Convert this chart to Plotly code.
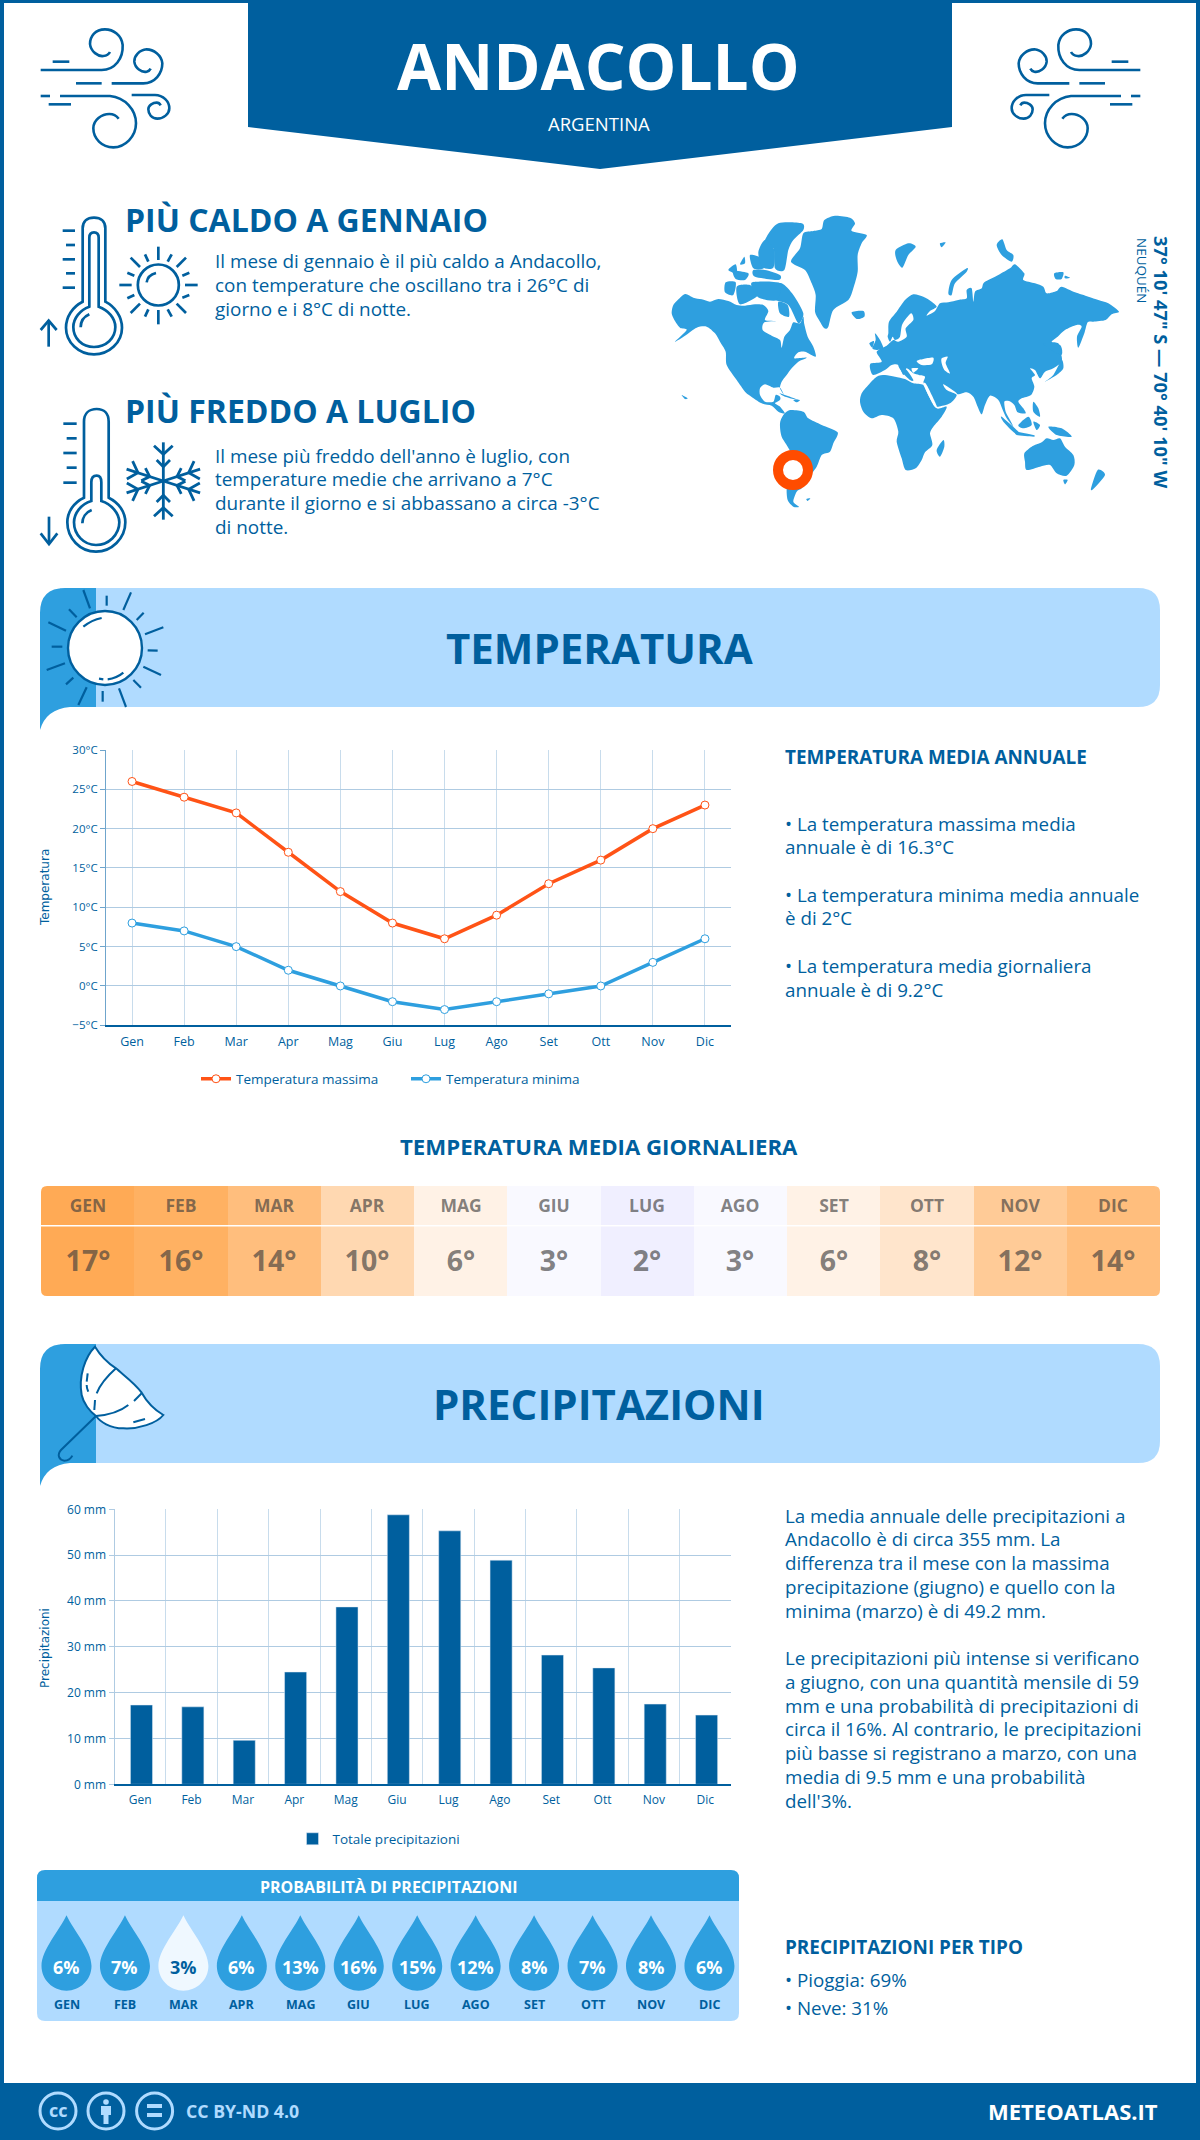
import math
import re
import plotly.graph_objects as go

months = ["Gen", "Feb", "Mar", "Apr", "Mag", "Giu", "Lug", "Ago", "Set", "Ott", "Nov", "Dic"]
months_upper = ["GEN", "FEB", "MAR", "APR", "MAG", "GIU", "LUG", "AGO", "SET", "OTT", "NOV", "DIC"]
temp_max = [26, 24, 22, 17, 12, 8, 6, 9, 13, 16, 20, 23]
temp_min = [8, 7, 5, 2, 0, -2, -3, -2, -1, 0, 3, 6]
temp_avg = [17, 16, 14, 10, 6, 3, 2, 3, 6, 8, 12, 14]
precip_mm = [17.3, 16.9, 9.6, 24.5, 38.7, 58.8, 55.3, 48.9, 28.2, 25.4, 17.5, 15.1]
precip_prob = [6, 7, 3, 6, 13, 16, 15, 12, 8, 7, 8, 6]

BLUE = "#005F9E"
MID = "#2E9FDF"
LIGHT = "#B0DBFF"
FONT = "Open Sans"

shapes = []
notes = []


def tf(path, ox=0, oy=0, s=1.0, mirror=None):
    # zoomed-crop coordinates -> page pixels
    nums = iter(range(10**6))

    def sub(m):
        v = float(m.group())
        if next(nums) % 2 == 0:
            x = ox + v * s
            return f"{(mirror - x) if mirror else x:.2f}"
        return f"{oy + v * s:.2f}"
    return re.sub(r"-?\d+\.?\d*", sub, path)


def add_path(path, fill=None, line=None, width=0):
    shapes.append(dict(type="path", path=path, xref="x4", yref="y4", layer="above",
                       fillcolor=fill or "rgba(0,0,0,0)",
                       line=dict(color=line or "rgba(0,0,0,0)", width=width)))


def add_circle(cx, cy, r, fill=None, line=None, width=0):
    shapes.append(dict(type="circle", x0=cx - r, x1=cx + r, y0=cy - r, y1=cy + r,
                       xref="x4", yref="y4", layer="above",
                       fillcolor=fill or "rgba(0,0,0,0)",
                       line=dict(color=line or "rgba(0,0,0,0)", width=width)))


def label(x, y, text, size, color=BLUE, bold=False, anchor="left", family=FONT, angle=0, yanchor="middle"):
    notes.append(dict(x=x, y=y, xref="x4", yref="y4", showarrow=False, borderpad=0,
                      text=f"<b>{text}</b>" if bold else text, textangle=angle,
                      xanchor=anchor, yanchor=yanchor,
                      font=dict(family=family, size=size, color=color)))


def lines(x, ys, texts, size, **kw):
    for y, t in zip(ys, texts):
        label(x, y, t, size, **kw)


def blob(flat, k=0.13):
    # closed smooth outline through the listed points
    p = list(zip(flat[0::2], flat[1::2]))
    n = len(p)
    out = f"M{p[0][0]} {p[0][1]}"
    for i in range(n):
        a, b, c, d = p[i - 1], p[i], p[(i + 1) % n], p[(i + 2) % n]
        c1 = (b[0] + (c[0] - a[0]) * k, b[1] + (c[1] - a[1]) * k)
        c2 = (c[0] - (d[0] - b[0]) * k, c[1] - (d[1] - b[1]) * k)
        out += f" C{c1[0]:.1f} {c1[1]:.1f} {c2[0]:.1f} {c2[1]:.1f} {c[0]} {c[1]}"
    return out + " Z"


# frame, banner, footer
add_path("M0 0 L1200 0 L1200 3 L0 3 Z", fill=BLUE)
add_path("M0 0 L4 0 L4 2140 L0 2140 Z", fill=BLUE)
add_path("M1196 0 L1200 0 L1200 2140 L1196 2140 Z", fill=BLUE)
add_path("M248 0 L952 0 L952 127 L600 169 L248 127 Z", fill=BLUE)
add_path("M0 2083 L1200 2083 L1200 2140 L0 2140 Z", fill=BLUE)

label(598, 65, "ANDACOLLO", 64, color="white", bold=True, anchor="center")
label(598.5, 123.5, "ARGENTINA", 18.5, color="white", anchor="center")

# wind icons
wind = ["M32 150 L215 150 C255 150 280 115 278 75 C275 45 250 28 225 28 C195 28 180 50 180 72 C182 95 205 110 220 108 C230 107 238 100 240 96",
        "M68 125 L118 125",
        "M245 190 L340 190 C375 190 397 160 397 130 C395 105 370 88 350 88 C328 90 312 108 313 125 C315 145 335 158 350 155 C355 154 360 150 362 146",
        "M138 190 L215 190",
        "M32 228 L60 228",
        "M90 228 L240 228 C285 232 318 270 318 310 C318 350 285 382 250 382 C215 382 190 355 190 325 C190 300 215 282 238 282 C250 282 260 288 266 296",
        "M56 253 L123 253",
        "M305 225 L375 225 C400 225 418 245 418 265 C418 282 400 296 382 296 C365 296 355 282 355 268 C355 255 370 248 380 248 C386 248 390 252 392 256"]
for p in wind:
    add_path(tf(p, 30, 20, 1 / 3), line=BLUE, width=2.6)
    add_path(tf(p, 30, 20, 1 / 3, mirror=1181), line=BLUE, width=2.6)

# hot block
hot = ["M158 290 L158 70 C158 48 172 38 192 38 C212 38 226 48 226 70 L226 290 C255 305 276 335 276 368 C276 412 238 448 192 448 C146 448 108 412 108 368 C108 335 128 305 158 290 Z",
       "M178 305 L178 98 C178 85 185 82 192 82 C200 82 206 85 206 98 L206 305 C235 315 256 340 256 366 C256 400 228 426 192 426 C156 426 130 400 130 366 C130 340 150 315 178 305 Z",
       "M152 367 C152 350 162 335 178 328",
       "M98 77 L135 77", "M108 120 L135 120", "M98 163 L135 163", "M108 205 L135 205", "M98 248 L135 248",
       "M56 425 L56 345", "M32 375 L56 347 L80 375",
       "M385 125 L385 165", "M385 315 L385 358", "M268 240 L305 240", "M465 240 L503 240",
       "M302 158 L330 186", "M468 158 L440 186", "M302 324 L330 296", "M468 324 L440 296",
       "M345 148 L355 170", "M425 148 L413 170", "M292 203 L313 212", "M478 203 L457 212",
       "M292 280 L313 270", "M478 270 L457 278", "M355 313 L345 335", "M413 313 L425 335",
       "M350 232 C352 218 362 208 378 204"]
for p in hot:
    add_path(tf(p, 30, 205, 1 / 3), line=BLUE, width=2.7)
add_circle(30 + 385 / 3, 205 + 240 / 3, 20.5, line=BLUE, width=2.7)

label(124, 219, "PIÙ CALDO A GENNAIO", 32, bold=True)
lines(214, [261, 284.5, 308.5],
      ["Il mese di gennaio è il più caldo a Andacollo,",
       "con temperature che oscillano tra i 26°C di",
       "giorno e i 8°C di notte."], 18.9)

# cold block
cold = ["M162 308 L162 80 C162 55 178 42 200 42 C222 42 236 55 236 80 L236 308 C265 322 286 350 286 382 C286 430 245 470 198 470 C150 470 112 430 112 382 C112 350 132 322 162 308 Z",
        "M184 318 L184 262 C184 248 190 242 200 242 C208 242 214 248 214 262 L214 318 C245 328 268 355 268 382 C268 420 235 450 198 450 C162 450 132 420 132 382 C132 355 152 328 184 318 Z",
        "M157 385 C157 368 167 352 185 345",
        "M100 86 L140 86", "M110 130 L140 130", "M100 174 L140 174", "M110 218 L140 218", "M100 263 L140 263",
        "M57 365 L57 445", "M32 415 L57 447 L82 415"]
for p in cold:
    add_path(tf(p, 30, 395, 1 / 3), line=BLUE, width=2.7)
# snowflake arm, turned round the centre
arm = [[(0, 0), (0, -116)], [(-28, -106), (0, -80), (28, -106)], [(-20, -63), (0, -43), (20, -63)]]
for ang in (0, 72, 108, 180, 252, 288):
    a = math.radians(ang)
    for seg in arm:
        pts = [(400 + u * math.cos(a) - v * math.sin(a), 258 + u * math.sin(a) + v * math.cos(a)) for u, v in seg]
        p = "M" + " L".join(f"{u:.1f} {v:.1f}" for u, v in pts)
        add_path(tf(p, 30, 395, 1 / 3), line=BLUE, width=2.8)

label(124, 410, "PIÙ FREDDO A LUGLIO", 32, bold=True)
lines(214, [456, 479, 503, 527],
      ["Il mese più freddo dell'anno è luglio, con",
       "temperature medie che arrivano a 7°C",
       "durante il giorno e si abbassano a circa -3°C",
       "di notte."], 18.9)

# world map, outlines
north_america = [20, 325, 25, 300, 45, 278, 62, 267, 85, 278, 110, 283, 135, 290, 160, 282, 190, 288, 215, 300, 240, 302,
                 270, 298, 295, 300, 310, 318, 300, 345, 335, 348, 298, 352, 293, 375, 320, 392, 345, 405, 350, 428, 358, 395,
                 375, 375, 385, 352, 405, 355, 415, 335, 418, 358, 428, 395, 445, 425, 452, 455, 420, 440, 400, 442, 388, 460,
                 425, 458, 400, 470, 380, 490, 365, 510, 350, 530, 345, 550, 357, 570, 345, 548, 325, 548, 300, 538, 285, 550,
                 285, 570, 300, 590, 325, 590, 332, 570, 345, 575, 345, 585, 330, 595, 345, 605, 360, 625, 340, 620, 320, 602,
                 290, 595, 255, 572, 240, 560, 215, 525, 185, 480, 182, 440, 165, 410, 150, 385, 125, 365, 95, 368, 60, 392,
                 30, 410, 65, 375, 45, 368, 28, 345]
south_america = [345, 655, 355, 630, 375, 615, 415, 620, 430, 640, 470, 660, 518, 682, 505, 715, 495, 740, 470, 750, 455, 785,
                 425, 825, 410, 850, 395, 860, 385, 890, 402, 905, 385, 905, 368, 885, 365, 850, 372, 800, 378, 745, 350, 695]
greenland = [378, 170, 405, 130, 415, 85, 445, 78, 470, 72, 478, 45, 510, 32, 555, 38, 570, 55, 560, 78, 605, 90, 590, 115,
             578, 150, 578, 200, 565, 250, 550, 285, 505, 315, 490, 365, 478, 370, 462, 345, 450, 320, 452, 270, 440, 235, 420, 195]
eurasia = [670, 385, 672, 350, 695, 320, 720, 285, 745, 268, 775, 275, 800, 290, 815, 305, 795, 318, 785, 332, 810, 318, 825, 295,
           850, 292, 880, 285, 905, 280, 905, 255, 920, 250, 925, 290, 930, 260, 950, 250, 958, 232, 1000, 210, 1035, 190,
           1050, 178, 1078, 205, 1075, 225, 1110, 235, 1135, 245, 1145, 265, 1175, 258, 1190, 245, 1230, 262, 1270, 275,
           1300, 285, 1330, 295, 1362, 320, 1340, 328, 1322, 345, 1285, 350, 1268, 352, 1258, 385, 1240, 428, 1236, 395,
           1250, 365, 1235, 360, 1200, 375, 1178, 395, 1160, 410, 1180, 415, 1188, 445, 1190, 470, 1165, 490, 1140, 500,
           1125, 520, 1110, 495, 1095, 490, 1110, 510, 1100, 520, 1108, 545, 1098, 570, 1070, 580, 1060, 590, 1075, 610,
           1082, 625, 1058, 622, 1048, 600, 1032, 588, 1018, 590, 1022, 620, 1035, 645, 1045, 665, 1025, 640, 1012, 612,
           1000, 585, 975, 572, 960, 600, 950, 628, 938, 605, 925, 575, 905, 562, 880, 568, 870, 560, 835, 538, 845, 555,
           875, 570, 855, 595, 820, 605, 810, 600, 790, 560, 775, 535, 780, 515, 762, 510, 745, 505, 725, 490, 715, 510,
           700, 480, 680, 480, 660, 495, 625, 510, 615, 490, 618, 475, 650, 470, 635, 440, 665, 422, 685, 405, 700, 410,
           725, 395, 722, 370, 745, 345, 738, 325, 712, 358, 705, 395, 690, 405, 683, 395, 675, 410, 668, 395]
africa = [585, 590, 590, 565, 610, 540, 635, 515, 660, 510, 690, 515, 720, 522, 745, 535, 775, 540, 790, 570, 815, 610, 845, 605,
          830, 635, 805, 665, 795, 685, 802, 720, 780, 742, 770, 765, 752, 790, 722, 795, 710, 760, 695, 710, 700, 680, 685, 640,
          650, 630, 620, 640, 595, 620]
australia = [1078, 745, 1100, 725, 1130, 712, 1145, 700, 1165, 705, 1185, 700, 1200, 725, 1225, 750, 1228, 780, 1205, 812,
             1175, 805, 1155, 780, 1125, 785, 1085, 795, 1080, 770]
islands = [
    [305, 95, 340, 55, 410, 55, 415, 75, 385, 105, 370, 135, 358, 195, 330, 190, 325, 130, 290, 140],
    [310, 240, 350, 235, 385, 270, 415, 325, 400, 355, 370, 300, 320, 280],
    [182, 232, 212, 232, 205, 270, 180, 262], [190, 195, 212, 178, 215, 205], [205, 198, 250, 205, 240, 225, 212, 222],
    [265, 195, 300, 195, 345, 210, 340, 225, 270, 215], [255, 150, 290, 160, 296, 190, 265, 190], [225, 178, 238, 155, 240, 175],
    [280, 142, 300, 105, 328, 135, 325, 188, 292, 186],
    [215, 245, 255, 240, 280, 270, 225, 298], [262, 232, 345, 235, 335, 285, 285, 280, 268, 260], [340, 290, 368, 300, 372, 335, 345, 325],
    [560, 322, 595, 318, 598, 335, 575, 342],
    [692, 135, 730, 115, 752, 125, 730, 150, 712, 188, 695, 165], [825, 115, 842, 112, 830, 127],
    [995, 120, 1012, 103, 1025, 135, 1045, 150, 1040, 170, 1010, 150],
    [850, 265, 860, 225, 905, 190, 905, 200, 870, 235, 860, 270],
    [1168, 205, 1195, 202, 1190, 222, 1172, 222], [1200, 212, 1215, 218, 1200, 220],
    [622, 430, 632, 405, 630, 385, 645, 405, 655, 430, 635, 435], [613, 415, 627, 408, 622, 428],
    [700, 480, 725, 495, 745, 525, 735, 525, 710, 500],
    [815, 735, 835, 705, 838, 725, 825, 755],
    [1195, 825, 1208, 825, 1200, 838], [1298, 795, 1320, 810, 1285, 852, 1278, 850],
    [1060, 660, 1090, 635, 1100, 660, 1075, 670], [1010, 635, 1060, 680, 1050, 685, 1015, 650],
    [1055, 680, 1105, 690, 1105, 695, 1055, 690], [1105, 650, 1125, 660, 1115, 675],
    [1150, 665, 1190, 670, 1220, 695, 1175, 690], [1105, 590, 1120, 610, 1125, 635, 1105, 620],
    [1140, 530, 1165, 510, 1190, 465, 1195, 490, 1175, 510], [1135, 418, 1185, 420, 1188, 450],
    [345, 565, 400, 585, 360, 575], [385, 585, 405, 585, 395, 592], [424, 882, 436, 880, 428, 888], [50, 570, 68, 580, 60, 582],
]
water = [
    [755, 468, 775, 462, 805, 458, 800, 478, 770, 480],
    [830, 460, 848, 455, 842, 475, 855, 505, 838, 495, 830, 475],
    [775, 538, 785, 540, 815, 603, 805, 600],
    [740, 490, 760, 490, 745, 503],
]
for p in [north_america, south_america, greenland, eurasia, africa, australia] + islands:
    add_path(tf(blob(p), 665, 205, 1 / 3), fill=MID)
for p in water:
    add_path(tf(blob(p), 665, 205, 1 / 3), fill="white")
add_circle(793, 470, 15, fill="white", line="#FF4C00", width=10)
label(1162, 235, "37° 10' 47\" S — 70° 40' 10\" W", 18.3, bold=True, anchor="center", angle=90, yanchor="top")
label(1142, 237, "NEUQUÉN", 13.5, anchor="center", angle=90, yanchor="top")


def band(y0, title):
    # section band with the darker tab and its tail
    y1 = y0 + 119
    add_path(f"M60 {y0} L1138 {y0} Q1160 {y0} 1160 {y0+22} L1160 {y1-22} Q1160 {y1} 1138 {y1} L60 {y1} Z", fill=LIGHT)
    add_path(f"M40 {y0+25} Q40 {y0} 65 {y0} L96 {y0} L96 {y1} L70 {y1} Q46 {y1+2} 40 {y1+23} Z", fill=MID)
    label(599, y0 + 59, title, 42, bold=True, anchor="center")


band(588, "TEMPERATURA")
band(1344, "PRECIPITAZIONI")

# sun on the temperature band
add_circle(105, 648, 37, fill="white", line=BLUE, width=2.4)
rays = [(145, 15, 165, 70), (215, 32, 215, 62), (288, 22, 265, 75), (326, 83, 305, 105), (385, 127, 330, 148),
        (338, 196, 368, 197), (325, 245, 378, 270), (295, 285, 318, 308), (252, 310, 273, 366), (203, 318, 203, 350),
        (155, 307, 130, 360), (115, 278, 93, 298), (90, 235, 35, 255), (82, 185, 50, 185), (93, 137, 40, 112), (125, 97, 102, 73)]
for a, b, c, d in rays:
    add_path(tf(f"M{a} {b} L{c} {d}", 35, 585, 1 / 3), line=BLUE, width=2.2)
for p in ["M145 125 Q170 105 200 99", "M218 283 Q245 280 265 263", "M192 281 L205 283"]:
    add_path(tf(p, 35, 585, 1 / 3), line=BLUE, width=2.2)

# umbrella on the precipitation band
add_path(tf("M180 20 C150 50 130 110 140 165 C145 190 165 215 183 228 C195 245 225 265 265 265 C310 268 365 250 385 225 C360 210 335 185 320 158 C300 130 265 105 243 85 C220 70 195 45 180 20 Z", 35, 1340, 1 / 3),
         fill="white", line=BLUE, width=2)
for p in ["M183 228 C220 225 255 215 280 195", "M297 183 L320 160", "M243 85 C215 110 195 135 185 160", "M180 180 L178 210",
          "M158 100 L155 125", "M155 135 C155 145 158 150 160 155", "M295 247 L330 237",
          "M183 228 L78 330 C65 345 72 360 88 362 C100 362 108 355 112 347"]:
    add_path(tf(p, 35, 1340, 1 / 3), line=BLUE, width=2)

# text next to the temperature chart
label(784, 757, "TEMPERATURA MEDIA ANNUALE", 18.9, bold=True)
lines(784, [824, 847, 895, 918, 966, 990],
      ["• La temperatura massima media", "annuale è di 16.3°C",
       "• La temperatura minima media annuale", "è di 2°C",
       "• La temperatura media giornaliera", "annuale è di 9.2°C"], 18.8)

# daily mean table
label(598.5, 1146, "TEMPERATURA MEDIA GIORNALIERA", 22.2, bold=True, anchor="center")
for p in ["M41 1186 L47 1186 Q41 1186 41 1192 Z", "M1160 1186 L1154 1186 Q1160 1186 1160 1192 Z",
          "M41 1296 L47 1296 Q41 1296 41 1290 Z", "M1160 1296 L1154 1296 Q1160 1296 1160 1290 Z"]:
    add_path(p, fill="white")

# text next to the precipitation chart
lines(784, [1516, 1539, 1563, 1587, 1611],
      ["La media annuale delle precipitazioni a", "Andacollo è di circa 355 mm. La",
       "differenza tra il mese con la massima", "precipitazione (giugno) e quello con la",
       "minima (marzo) è di 49.2 mm."], 18.8)
lines(784, [1658, 1682, 1706, 1729, 1753, 1777, 1801],
      ["Le precipitazioni più intense si verificano", "a giugno, con una quantità mensile di 59",
       "mm e una probabilità di precipitazioni di", "circa il 16%. Al contrario, le precipitazioni",
       "più basse si registrano a marzo, con una", "media di 9.5 mm e una probabilità", "dell'3%."], 18.8)

# probability box
add_path("M37 1901 L37 1878 Q37 1870 45 1870 L731 1870 Q739 1870 739 1878 L739 1901 Z", fill=MID)
add_path("M37 1901 L739 1901 L739 2013 Q739 2021 731 2021 L45 2021 Q37 2021 37 2013 Z", fill=LIGHT)
label(389, 1887, "PROBABILITÀ DI PRECIPITAZIONI", 16, color="white", bold=True, anchor="center")
for i, (m, v) in enumerate(zip(months_upper, precip_prob)):
    cx = 66.5 + 58.45 * i
    low = v < 5
    add_path(tf("M0 46 C-20 90 -75 150 -75 198 C-75 240 -40 272 0 272 C40 272 75 240 75 198 C75 150 20 90 0 46 Z", cx, 1900, 1 / 3),
             fill="#EFF8FF" if low else MID)
    label(cx, 1967, f"{v}%", 18, color=BLUE if low else "white", bold=True, anchor="center")
    label(cx, 2004, m, 12.5, bold=True, anchor="center")

label(784, 1947, "PRECIPITAZIONI PER TIPO", 18.9, bold=True)
lines(784, [1980, 2008], ["• Pioggia: 69%", "• Neve: 31%"], 18.8)

# footer icons
for cx in (58, 106, 154.6):
    add_circle(cx, 2111, 18, line=LIGHT, width=3)
label(58, 2110, "cc", 18, color=LIGHT, bold=True, anchor="center")
add_circle(106, 2102, 2.8, fill=LIGHT)
add_path("M101 2106 L111 2106 L111 2115 L108.5 2115 L108.5 2124 L103.5 2124 L103.5 2115 L101 2115 Z", fill=LIGHT)
add_path("M147 2104 L162 2104 L162 2108 L147 2108 Z", fill=LIGHT)
add_path("M147 2113 L162 2113 L162 2117 L147 2117 Z", fill=LIGHT)
label(185, 2111, "CC BY-ND 4.0", 17.7, color=LIGHT, bold=True)
label(1159, 2111, "METEOATLAS.IT", 22, color="white", bold=True, anchor="right")

# axis titles in the wide face of the original
label(45, 888, "Temperatura", 12, family="DejaVu Sans", anchor="center", angle=-90)
label(45, 1648, "Precipitazioni", 12, family="DejaVu Sans", anchor="center", angle=-90)

heat_scale = [[0, "#F0EFFF"], [1 / 15, "#F9F9FF"], [4 / 15, "#FFF2E6"], [1, "#FFAA55"]]
fig = go.Figure()
fig.add_trace(go.Scatter(x=months, y=temp_max, name="Temperatura massima", mode="lines+markers",
                         line=dict(color="#FF5316", width=3.5),
                         marker=dict(size=8, color="white", line=dict(color="#FF5316", width=1))))
fig.add_trace(go.Scatter(x=months, y=temp_min, name="Temperatura minima", mode="lines+markers",
                         line=dict(color=MID, width=3.5),
                         marker=dict(size=8, color="white", line=dict(color=MID, width=1))))
fig.add_trace(go.Bar(x=months, y=precip_mm, name="Totale precipitazioni", marker_color=BLUE, width=0.43, offset=-0.19,
                     xaxis="x2", yaxis="y2", legend="legend2"))
fig.add_trace(go.Heatmap(x=months_upper, y=[0, 39], z=[temp_avg], text=[months_upper], texttemplate="<b>%{text}</b>",
                         textfont=dict(family=FONT, size=17.5, color="rgba(60,60,60,0.65)"),
                         colorscale=heat_scale, zmin=2, zmax=17, showscale=False, xaxis="x3", yaxis="y3"))
fig.add_trace(go.Heatmap(x=months_upper, y=[40.5, 110], z=[temp_avg], text=[[f"{v}°" for v in temp_avg]],
                         texttemplate="<b>%{text}</b>",
                         textfont=dict(family=FONT, size=28.5, color="rgba(60,60,60,0.65)"),
                         colorscale=heat_scale, zmin=2, zmax=17, showscale=False, xaxis="x3", yaxis="y3"))
fig.add_trace(go.Scatter(x=[], y=[], xaxis="x4", yaxis="y4", showlegend=False, hoverinfo="skip"))

tick = dict(family=FONT, size=12, color=BLUE)
fig.update_layout(
    width=1200, height=2140, margin=dict(l=0, r=0, t=0, b=0, autoexpand=False),
    paper_bgcolor="white", plot_bgcolor="rgba(0,0,0,0)", shapes=shapes, annotations=notes,
    xaxis=dict(domain=[106 / 1200, 731 / 1200], range=[-0.5, 11.5], tickfont=dict(family=FONT, size=12.5, color=BLUE),
               showgrid=True, gridcolor="#C8DCEC",
               gridwidth=1, showline=True, linecolor=BLUE, linewidth=1.5, ticks="", anchor="y", ticklabelstandoff=4),
    yaxis=dict(domain=[1 - 1025.3 / 2140, 1 - 750 / 2140], range=[-5, 30], dtick=5, ticksuffix="°C",
               tickfont=dict(family=FONT, size=11.5, color=BLUE),
               gridcolor="#AFCBE2", gridwidth=1, zeroline=False, showline=True, linecolor="#6FA5CC",
               ticks="outside", ticklen=5, tickcolor="#6FA5CC", anchor="x"),
    xaxis2=dict(domain=[114.5 / 1200, 731 / 1200], range=[-0.5, 11.5], tickfont=tick, tickson="boundaries", showgrid=True,
                gridcolor="#C8DCEC", gridwidth=1, showline=True, linecolor=BLUE, linewidth=1.5, ticks="", anchor="y2",
                ticklabelstandoff=4),
    yaxis2=dict(domain=[1 - 1784.3 / 2140, 1 - 1509.3 / 2140], range=[0, 60], dtick=10, ticksuffix=" mm", tickfont=tick,
                gridcolor="#AFCBE2", gridwidth=1, zeroline=False, showline=True, linecolor="#AFCBE2",
                ticks="outside", ticklen=5, tickcolor="#AFCBE2", anchor="x2"),
    xaxis3=dict(domain=[41 / 1200, 1160 / 1200], visible=False, anchor="y3"),
    yaxis3=dict(domain=[1 - 1296 / 2140, 1 - 1186 / 2140], range=[110, 0], visible=False, anchor="x3"),
    xaxis4=dict(domain=[0, 1], range=[0, 1200], visible=False, anchor="y4"),
    yaxis4=dict(domain=[0, 1], range=[2140, 0], visible=False, anchor="x4"),
    legend=dict(orientation="h", x=406 / 1200, y=1 - 1079 / 2140, xanchor="center", yanchor="middle",
                font=dict(family=FONT, size=13.5, color=BLUE), bgcolor="rgba(0,0,0,0)", itemwidth=30,
                entrywidth=165, entrywidthmode="pixels"),
    legend2=dict(orientation="h", x=379 / 1200, y=1 - 1839 / 2140, xanchor="center", yanchor="middle",
                 font=dict(family=FONT, size=13.5, color=BLUE), bgcolor="rgba(0,0,0,0)", itemwidth=30),
)
fig.update_traces(showlegend=False, selector=dict(type="heatmap"))

fig.write_html("out.html", config={"displayModeBar": False},
               post_script="document.body.style.margin='0'")
